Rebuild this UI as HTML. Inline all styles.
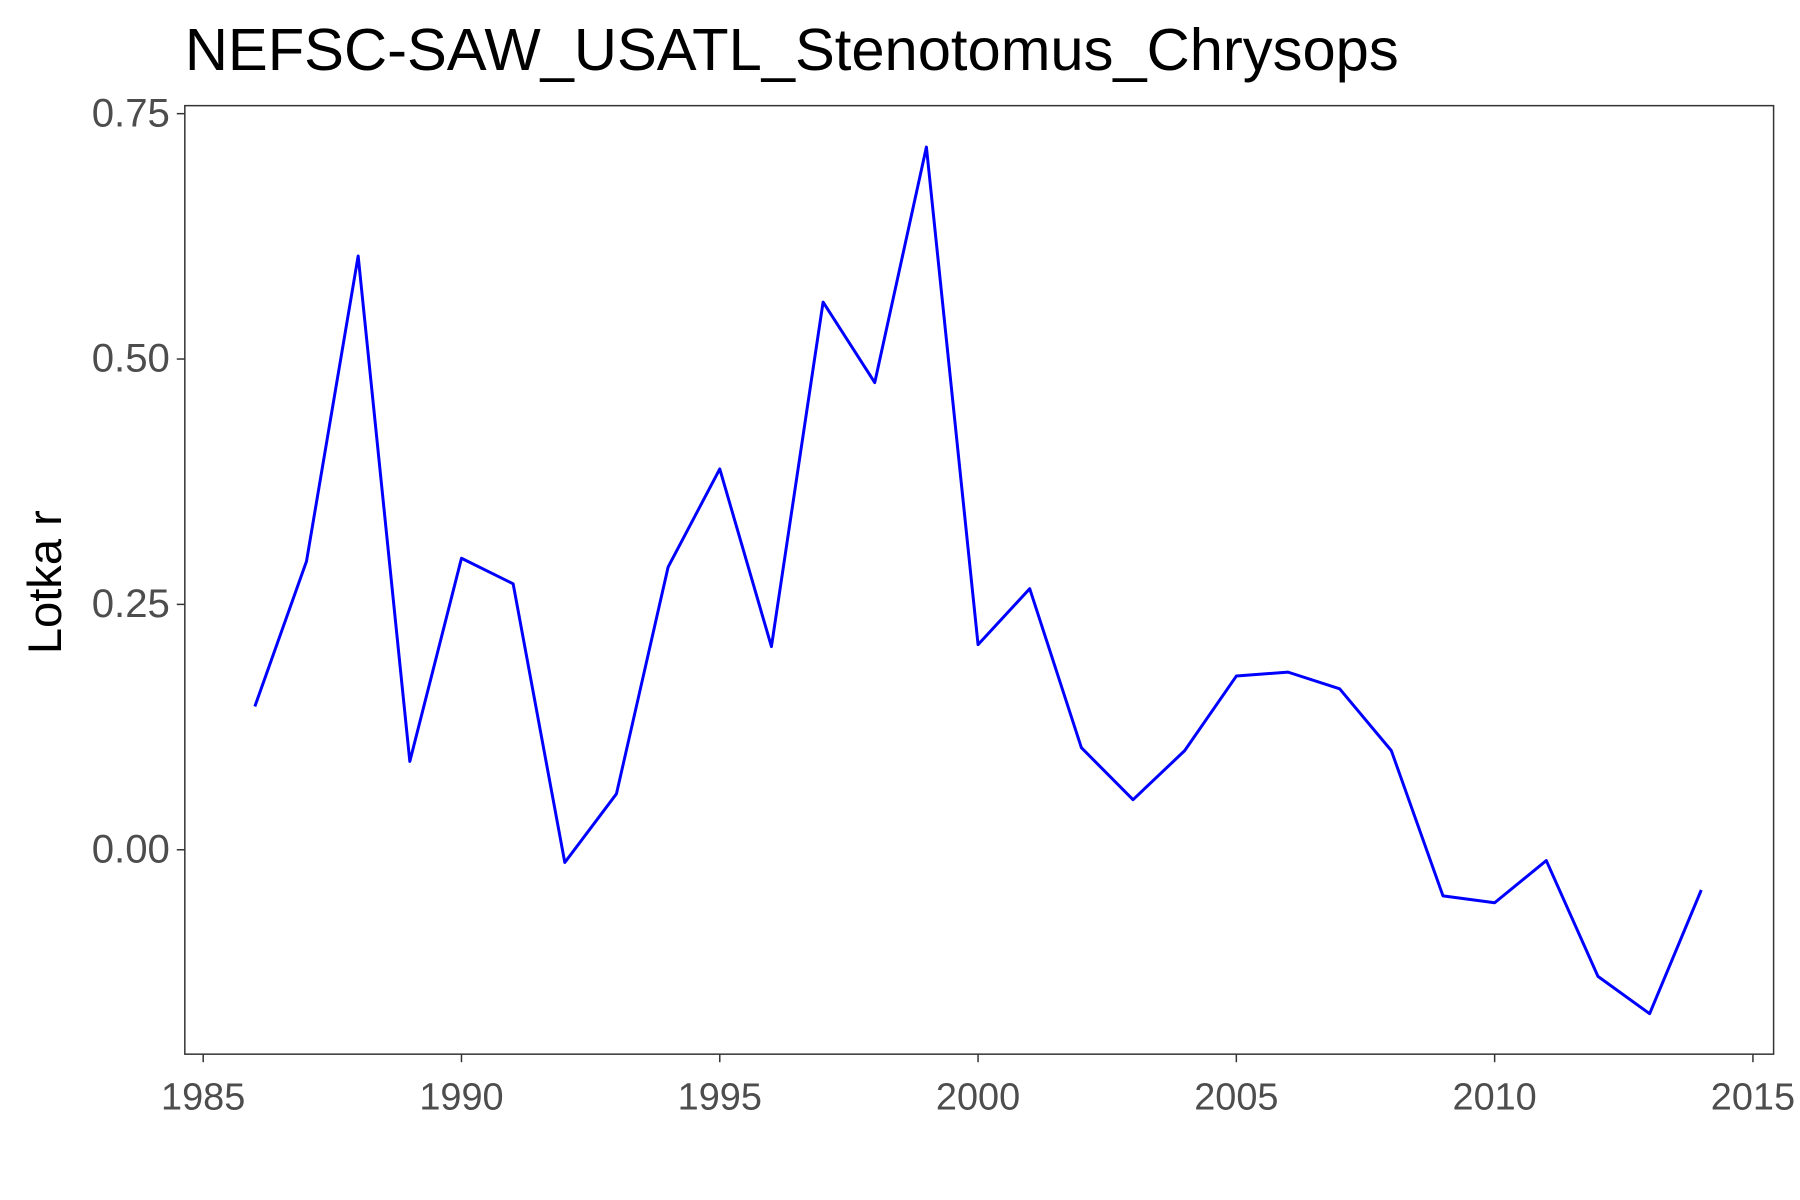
<!DOCTYPE html>
<html><head><meta charset="utf-8"><style>
html,body{margin:0;padding:0;background:#fff;}
svg{display:block;font-family:"Liberation Sans",Arial,sans-serif;}
</style></head><body>
<svg id="chart" width="1800" height="1200" viewBox="0 0 1568 1045" preserveAspectRatio="none" xmlns="http://www.w3.org/2000/svg">
<text x="161" y="61" font-size="52" fill="#000">NEFSC-SAW_USATL_Stenotomus_Chrysops</text>
<text transform="translate(53,507) rotate(-90)" text-anchor="middle" font-size="41" fill="#000">Lotka r</text>
<rect x="161" y="92" width="1384" height="826" fill="none" stroke="#333" stroke-width="1.3"/>
<g id="yaxis"></g>
<g id="xaxis"></g>
<path id="line" fill="none" stroke="#0000ff" stroke-width="2.6" stroke-linejoin="round"/>
</svg>
<script>
const years=[1986,1987,1988,1989,1990,1991,1992,1993,1994,1995,1996,1997,1998,1999,2000,2001,2002,2003,2004,2005,2006,2007,2008,2009,2010,2011,2012,2013,2014];
const lotkaR=[0.146,0.294,0.605,0.090,0.297,0.271,-0.013,0.057,0.288,0.388,0.207,0.558,0.476,0.716,0.209,0.266,0.104,0.051,0.101,0.177,0.181,0.164,0.101,-0.047,-0.054,-0.011,-0.129,-0.167,-0.041];
const yTicks=[0,0.25,0.5,0.75];
const yTickLabels=["0.00","0.25","0.50","0.75"];
const xTicks=[1985,1990,1995,2000,2005,2010,2015];
const xTickLabels=["1985","1990","1995","2000","2005","2010","2015"];
const X=v=>177+(v-1985)*45;
const Y=v=>740-v*854.7;
const NS="http://www.w3.org/2000/svg";
const ya=document.getElementById('yaxis'), xa=document.getElementById('xaxis');
yTicks.forEach((t,i)=>{
 const l=document.createElementNS(NS,'line');
 
 
 l.setAttribute('x1',154);l.setAttribute('x2',161);l.setAttribute('y1',Y(t));l.setAttribute('y2',Y(t));
 l.setAttribute('stroke','#333');l.setAttribute('stroke-width','1.3');ya.appendChild(l);
 const tx=document.createElementNS(NS,'text');
 
 
 tx.setAttribute('x',148);tx.setAttribute('y',Y(t)+11);tx.setAttribute('text-anchor','end');
 tx.setAttribute('font-size','35');tx.setAttribute('fill','#4d4d4d');tx.textContent=yTickLabels[i];ya.appendChild(tx);
});
xTicks.forEach((t,i)=>{
 const l=document.createElementNS(NS,'line');
 
 
 l.setAttribute('x1',X(t));l.setAttribute('x2',X(t));l.setAttribute('y1',918);l.setAttribute('y2',925);
 l.setAttribute('stroke','#333');l.setAttribute('stroke-width','1.3');xa.appendChild(l);
 const tx=document.createElementNS(NS,'text');
 
 
 tx.setAttribute('x',X(t));tx.setAttribute('y',966);tx.setAttribute('text-anchor','middle');
 tx.setAttribute('font-size','33');tx.setAttribute('fill','#4d4d4d');tx.textContent=xTickLabels[i];xa.appendChild(tx);
});
document.getElementById('line').setAttribute('d',years.map((y,i)=>(i?'L':'M')+X(y)+','+Y(lotkaR[i])).join(' '));
</script>
</body></html>
